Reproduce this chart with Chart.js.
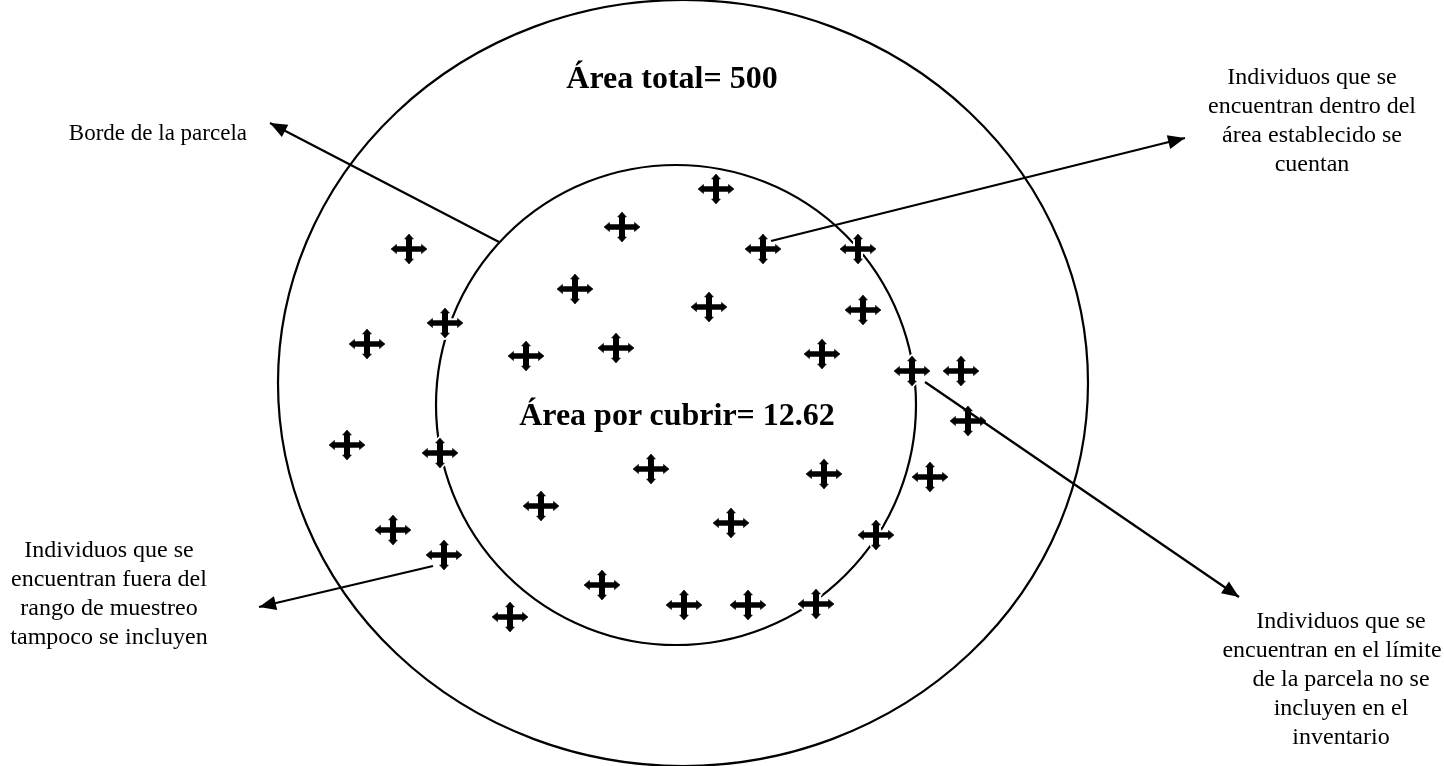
<!DOCTYPE html>
<html>
<head>
<meta charset="utf-8">
<script src="https://cdn.jsdelivr.net/npm/chart.js@4.4.1/dist/chart.umd.min.js"></script>
<style>
  html, body { margin:0; padding:0; background:#fff; overflow:hidden; }
  #wrap { position:relative; width:1444px; height:766px; }
  canvas { position:absolute; left:0; top:0; }
  .lbl { position:absolute; font-family:"Liberation Serif","Times New Roman",serif; color:#000; white-space:nowrap; }
  .reg { font-size:24px; line-height:29px; }
  .big { font-size:32px; line-height:36px; font-weight:bold; text-align:center; }
</style>
</head>
<body>
<div id="wrap">
  <canvas id="c" width="1444" height="766"></canvas>
  <div class="lbl big" style="left:472px; width:400px; top:59px;">Área total= 500</div>
  <div class="lbl big" style="left:477px; width:400px; top:396px;">Área por cubrir= 12.62</div>
  <div class="lbl reg" style="left:0px; width:247px; top:118px; text-align:right; font-size:23px;">Borde de la parcela</div>
  <div class="lbl reg" style="left:1112px; width:400px; top:62px; text-align:center;">Individuos que se<br>encuentran dentro del<br>área establecido se<br>cuentan</div>
  <div class="lbl reg" style="left:-91px; width:400px; top:535px; text-align:center;">Individuos que se<br>encuentran fuera del<br>rango de muestreo<br>tampoco se incluyen</div>
  <div class="lbl reg" style="left:1141px; width:400px; top:606px; text-align:center;">Individuos que se<br><span style="position:relative; left:-9px;">encuentran en el límite</span><br>de la parcela no se<br>incluyen en el<br>inventario</div>
</div>
<script>
// ---- data ----
const crossX = [716,622,409,763,858,575,709,863,445,367,526,616,822,912,961,968,347,440,651,824,930,541,393,731,876,444,602,684,748,816,510];
const crossY = [189,227,249,249,249,289,307,310,323,344,356,348,354,371,371,421,445,453,469,474,477,506,530,523,535,555,585,605,605,604,617];

const circleCX = [683, 676];
const circleCY = [383, 405];
const circleRX = [405, 240];
const circleRY = [383, 240];

const arrowFromX = [499, 771, 925, 433];
const arrowFromY = [242, 241, 382, 566];
const arrowToX   = [270, 1185, 1239, 259];
const arrowToY   = [123, 138, 597, 607];

// ---- cross marker image ----
function makeCross() {
  const W = 50, H = 44, cx = W/2, cy = H/2;
  const cv = document.createElement('canvas');
  cv.width = W; cv.height = H;
  const g = cv.getContext('2d');
  function shape(color, extra) {
    g.strokeStyle = color; g.fillStyle = color;
    g.lineCap = 'butt';
    g.lineWidth = 5.5 + extra;
    g.beginPath(); g.moveTo(cx-14, cy); g.lineTo(cx+14, cy); g.stroke();
    g.lineWidth = 6 + extra;
    g.beginPath(); g.moveTo(cx, cy-11); g.lineTo(cx, cy+11); g.stroke();
    g.lineWidth = extra > 0 ? extra : 0.6;
    g.lineJoin = 'round';
    const tris = [
      [[cx-18,cy],[cx-12.5,cy-4.6],[cx-12.5,cy+4.6]],
      [[cx+18,cy],[cx+12.5,cy-4.6],[cx+12.5,cy+4.6]],
      [[cx,cy-15],[cx-4.4,cy-10],[cx+4.4,cy-10]],
      [[cx,cy+15],[cx-4.4,cy+10],[cx+4.4,cy+10]]
    ];
    tris.forEach(t => {
      g.beginPath(); g.moveTo(t[0][0],t[0][1]); g.lineTo(t[1][0],t[1][1]); g.lineTo(t[2][0],t[2][1]); g.closePath();
      g.fill(); g.stroke();
    });
  }
  shape('#fff', 4);
  shape('#000', 0);
  return cv;
}
const crossImg = makeCross();

const pts = crossX.map((x,i) => ({x:x, y:crossY[i]}));
const arrowSets = arrowFromX.map((x,i) => ({
  type:'scatter',
  data:[{x:x, y:arrowFromY[i]}, {x:arrowToX[i], y:arrowToY[i]}],
  showLine:true, borderColor:'#000', borderWidth:2.3, pointRadius:0, fill:false, order:0
}));

const shapesPlugin = {
  id:'shapes',
  beforeDatasetsDraw(chart) {
    const {ctx, scales:{x, y}} = chart;
    ctx.save();
    ctx.strokeStyle = '#000'; ctx.lineWidth = 2.2;
    for (let i = 0; i < circleCX.length; i++) {
      const px = x.getPixelForValue(circleCX[i]);
      const py = y.getPixelForValue(circleCY[i]);
      const rx = Math.abs(x.getPixelForValue(circleCX[i] + circleRX[i]) - px);
      const ry = Math.abs(y.getPixelForValue(circleCY[i] + circleRY[i]) - py);
      ctx.beginPath(); ctx.ellipse(px, py, rx, ry, 0, 0, Math.PI*2); ctx.stroke();
    }
    ctx.restore();
  },
  afterDatasetsDraw(chart) {
    const {ctx, scales:{x, y}} = chart;
    ctx.save();
    ctx.fillStyle = '#000';
    for (let i = 0; i < arrowFromX.length; i++) {
      const x0 = x.getPixelForValue(arrowFromX[i]), y0 = y.getPixelForValue(arrowFromY[i]);
      const x1 = x.getPixelForValue(arrowToX[i]), y1 = y.getPixelForValue(arrowToY[i]);
      const a = Math.atan2(y1 - y0, x1 - x0);
      const L = 17, Wd = 7;
      const bx = x1 - L*Math.cos(a), by = y1 - L*Math.sin(a);
      ctx.beginPath();
      ctx.moveTo(x1, y1);
      ctx.lineTo(bx + Wd*Math.sin(a), by - Wd*Math.cos(a));
      ctx.lineTo(bx - Wd*Math.sin(a), by + Wd*Math.cos(a));
      ctx.closePath(); ctx.fill();
    }
    ctx.restore();
  }
};

new Chart(document.getElementById('c'), {
  type:'scatter',
  data:{
    datasets:[
      ...arrowSets,
      { data:pts, pointStyle:crossImg, pointRadius:18, order:1 }
    ]
  },
  options:{
    responsive:false, animation:false, events:[],
    layout:{ padding:0, autoPadding:false },
    plugins:{ legend:{display:false}, tooltip:{enabled:false} },
    scales:{
      x:{ type:'linear', min:0, max:1444, display:false },
      y:{ type:'linear', min:0, max:766, reverse:true, display:false }
    }
  },
  plugins:[shapesPlugin]
});
</script>
</body>
</html>
